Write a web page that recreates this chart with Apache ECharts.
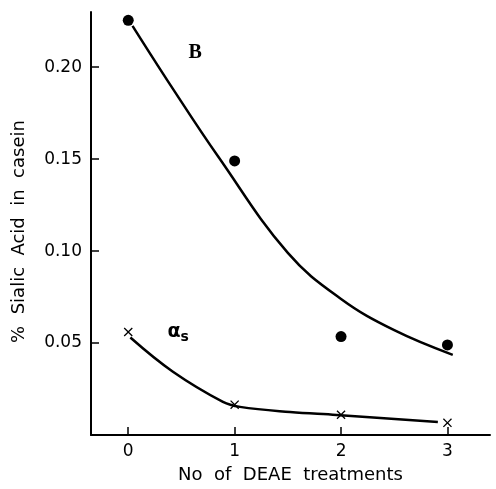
<!DOCTYPE html>
<html>
<head>
<meta charset="utf-8">
<script src="https://cdn.jsdelivr.net/npm/echarts@6/dist/echarts.min.js"></script>
<style>
  html, body { margin: 0; padding: 0; background: #fff; }
  #chart { width: 496px; height: 489px; }
</style>
</head>
<body>
<div id="chart"></div>
<script>
// ---- data ----
const treatments = [0, 1, 2, 3];
const bPoints = [0.2255, 0.149, 0.0535, 0.049];       // filled circles (B)
const asPoints = [0.056, 0.0165, 0.011, 0.0066];      // crosses (alpha-s)

// drawn curves (hand-fitted in the original)
const bCurveX = [0.04, 0.4, 0.85, 1.5, 2.0, 2.5, 3.05];
const bCurveY = [0.2225, 0.190, 0.151, 0.099, 0.074, 0.057, 0.0436];
const asCurveX = [0.02, 0.42, 0.89, 1.05, 1.52, 1.96, 2.91];
const asCurveY = [0.053, 0.0344, 0.018, 0.0153, 0.0125, 0.0109, 0.0071];

const xTicks = [0, 1, 2, 3];
const yTicks = [0.05, 0.10, 0.15, 0.20];

const pair = (xs, ys) => xs.map((x, i) => [x, ys[i]]);

const FONT = 'DejaVu Sans';
const crossPath = 'path://M0,1L1,0L5,4L9,0L10,1L6,5L10,9L9,10L5,6L1,10L0,9L4,5Z';

const chart = echarts.init(document.getElementById('chart'), null, { renderer: 'canvas' });
chart.setOption({
    backgroundColor: '#fff',
    animation: false,
    grid: { left: 91, top: 12, right: 6, bottom: 54 },
    xAxis: {
        type: 'value', min: -0.35, max: 3.4,
        name: 'No  of  DEAE  treatments', nameLocation: 'middle', nameGap: 31,
        nameTextStyle: { fontFamily: FONT, fontSize: 18, color: '#000' },
        axisLine: { onZero: false, lineStyle: { color: '#000', width: 2 } },
        axisTick: { inside: true, length: 8, customValues: xTicks, lineStyle: { color: '#000', width: 1.5 } },
        axisLabel: { customValues: xTicks, margin: 8, fontFamily: FONT, fontSize: 17, color: '#000' },
        splitLine: { show: false }
    },
    yAxis: {
        type: 'value', min: 0, max: 0.23,
        name: '%  Sialic  Acid  in  casein', nameLocation: 'middle', nameGap: 63, nameRotate: 90,
        nameTextStyle: { fontFamily: FONT, fontSize: 18, color: '#000', padding: [0, 16, 0, 0] },
        axisLine: { onZero: false, lineStyle: { color: '#000', width: 2 } },
        axisTick: { inside: true, length: 8, customValues: yTicks, lineStyle: { color: '#000', width: 1.5 } },
        axisLabel: { customValues: yTicks, margin: 9, fontFamily: FONT, fontSize: 17, color: '#000',
                     formatter: v => v.toFixed(2) },
        splitLine: { show: false }
    },
    series: [
        { type: 'line', data: pair(bCurveX, bCurveY), smooth: 0.4, showSymbol: false,
          lineStyle: { color: '#000', width: 2.5 }, z: 2 },
        { type: 'line', data: pair(asCurveX, asCurveY), smooth: 0.4, showSymbol: false,
          lineStyle: { color: '#000', width: 2.5 }, z: 2 },
        { type: 'scatter', data: pair(treatments, bPoints), symbol: 'circle', symbolSize: 11,
          itemStyle: { color: '#000', opacity: 1 }, z: 3 },
        { type: 'scatter', data: pair(treatments, asPoints), symbol: crossPath, symbolSize: 9,
          itemStyle: { color: '#000', opacity: 1 }, z: 3 },
        // curve labels
        { type: 'scatter', symbol: 'circle', symbolSize: 1, silent: true,
          itemStyle: { color: 'rgba(0,0,0,0)', opacity: 1 },
          data: [
            { value: [0.63, 0.208], label: { formatter: 'B', color: '#000', fontFamily: 'Liberation Serif', fontWeight: 'bold', fontSize: 20 } },
            { value: [0.47, 0.056], label: { formatter: '{a|α}{s|s}', rich: {
                a: { fontFamily: FONT, fontWeight: 'bold', fontSize: 19, color: '#000' },
                s: { fontFamily: FONT, fontWeight: 'bold', fontSize: 14, color: '#000', padding: [10, 0, 0, 0] } } } }
          ],
          label: { show: true, position: 'inside', color: '#000' } }
    ]
});
</script>
</body>
</html>
